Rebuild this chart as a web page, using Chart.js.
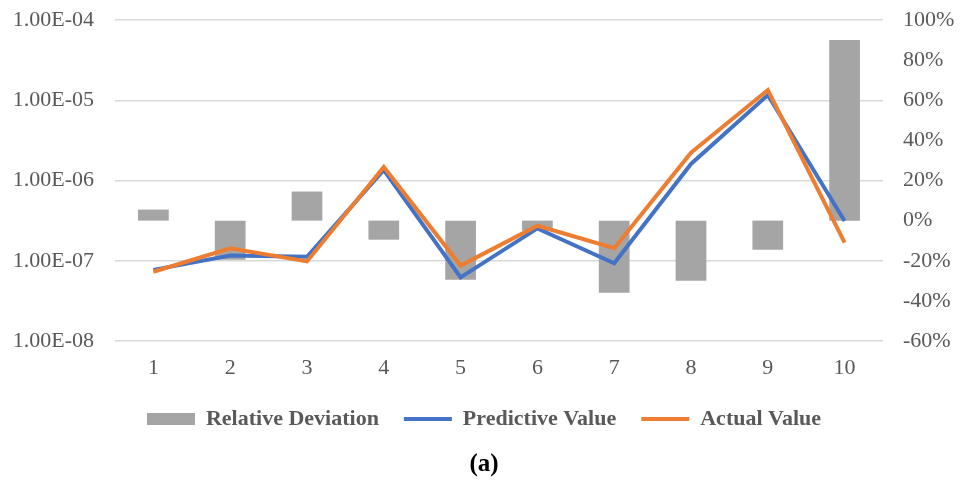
<!DOCTYPE html>
<html>
<head>
<meta charset="utf-8">
<script src="https://cdn.jsdelivr.net/npm/chart.js@4"></script>
<style>
  html, body { margin: 0; padding: 0; background: #ffffff; }
  canvas { display: block; }
</style>
</head>
<body>
<canvas id="chart" width="968" height="482"></canvas>
<script>
// Sample numbers along the x axis
const samples = ['1', '2', '3', '4', '5', '6', '7', '8', '9', '10'];

// Relative deviation of prediction vs. measurement, in percent (right axis)
const relativeDeviation = [5.5, -19.5, 14.5, -9.5, -29.5, -5, -36, -30, -14.5, 90];

// Predicted and measured values (left, logarithmic axis)
const predictiveValue = [7.7e-8, 1.16e-7, 1.12e-7, 1.35e-6, 6.2e-8, 2.53e-7, 9.3e-8, 1.61e-6, 1.16e-5, 3.13e-7];
const actualValue     = [7.3e-8, 1.43e-7, 0.98e-7, 1.47e-6, 8.7e-8, 2.73e-7, 1.43e-7, 2.22e-6, 1.34e-5, 1.68e-7];

// Tick values for both vertical axes
const logTicks = [1e-8, 1e-7, 1e-6, 1e-5, 1e-4];
const percentTicks = [-60, -40, -20, 0, 20, 40, 60, 80, 100];

const TEXT = '#595959';
const FONT = 'Liberation Serif';

function sci(v) {
  const e = Math.round(Math.log10(v));
  const m = v / Math.pow(10, e);
  return m.toFixed(2) + 'E' + (e < 0 ? '-' : '+') + String(Math.abs(e)).padStart(2, '0');
}

// Fix the side axis widths and let the layout padding decide the top edge
function sideAxisFit(width) {
  return (s) => {
    s.width = width;
    s.paddingTop = 0;
    s.paddingBottom = 0;
  };
}

new Chart(document.getElementById('chart'), {
  data: {
    labels: samples,
    datasets: [
      {
        type: 'bar',
        label: 'Relative Deviation',
        data: relativeDeviation,
        yAxisID: 'y2',
        backgroundColor: '#A5A5A5',
        borderWidth: 0,
        categoryPercentage: 1,
        barPercentage: 0.4,
        order: 3
      },
      {
        type: 'line',
        label: 'Predictive Value',
        data: predictiveValue,
        yAxisID: 'y',
        borderColor: '#4472C4',
        backgroundColor: '#4472C4',
        borderWidth: 4,
        pointRadius: 0,
        tension: 0,
        order: 2
      },
      {
        type: 'line',
        label: 'Actual Value',
        data: actualValue,
        yAxisID: 'y',
        borderColor: '#ED7D31',
        backgroundColor: '#ED7D31',
        borderWidth: 4,
        pointRadius: 0,
        tension: 0,
        order: 1
      }
    ]
  },
  options: {
    responsive: false,
    animation: false,
    devicePixelRatio: 1,
    layout: { padding: { top: 20, left: 0, right: 0, bottom: 0 } },
    scales: {
      x: {
        type: 'category',
        offset: true,
        afterFit: (s) => { s.height = 42; },
        grid: { display: false, drawTicks: false },
        border: { display: false },
        ticks: {
          color: TEXT,
          font: { family: FONT, size: 22 },
          padding: 14,
          maxRotation: 0
        }
      },
      y: {
        type: 'logarithmic',
        position: 'left',
        min: 1e-8,
        max: 1e-4,
        afterBuildTicks: (s) => { s.ticks = logTicks.map(v => ({ value: v })); },
        afterFit: sideAxisFit(115),
        grid: { color: '#D9D9D9', lineWidth: 1.5, drawTicks: false },
        border: { display: false },
        ticks: {
          color: TEXT,
          font: { family: FONT, size: 22 },
          padding: 21,
          callback: (v) => sci(v)
        }
      },
      y2: {
        type: 'linear',
        position: 'right',
        min: -60,
        max: 100,
        afterBuildTicks: (s) => { s.ticks = percentTicks.map(v => ({ value: v })); },
        afterFit: sideAxisFit(85),
        grid: { display: false, drawTicks: false },
        border: { display: false },
        ticks: {
          color: TEXT,
          font: { family: FONT, size: 22 },
          padding: 20,
          callback: (v) => v + '%'
        }
      }
    },
    plugins: {
      tooltip: { enabled: false },
      legend: {
        position: 'bottom',
        labels: {
          color: TEXT,
          font: { family: FONT, size: 22, weight: 'bold' },
          usePointStyle: true,
          pointStyleWidth: 48,
          boxHeight: 12,
          padding: 25,
          sort: (a, b) => a.datasetIndex - b.datasetIndex,
          generateLabels: (chart) => {
            const items = Chart.defaults.plugins.legend.labels.generateLabels(chart);
            return items.map(it => {
              const ds = chart.data.datasets[it.datasetIndex];
              const isBar = ds.type === 'bar';
              return Object.assign(it, {
                pointStyle: isBar ? 'rect' : 'line',
                lineWidth: isBar ? 0 : 4,
                strokeStyle: isBar ? ds.backgroundColor : ds.borderColor,
                fillStyle: isBar ? ds.backgroundColor : ds.borderColor
              });
            });
          }
        }
      },
      title: {
        display: true,
        position: 'bottom',
        text: '(a)',
        color: '#000000',
        font: { family: FONT, size: 25, weight: 'bold' },
        padding: { top: 10, bottom: 2 }
      }
    }
  }
});
</script>
</body>
</html>
